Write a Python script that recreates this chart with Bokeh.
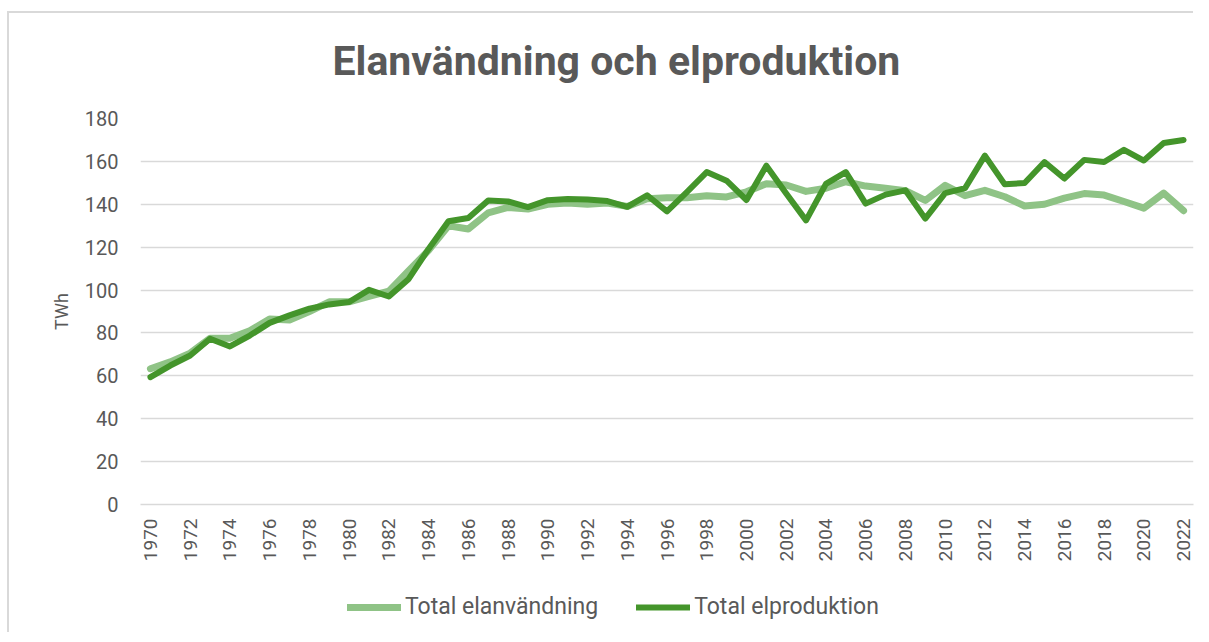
import math
from bokeh.plotting import figure
from bokeh.layouts import column
from bokeh.models import FixedTicker, Legend, LegendItem, Range1d, Title
from bokeh.embed import file_html
from bokeh.resources import INLINE

years = list(range(1970, 2023))
elanvandning = [63.3, 66.5, 70.6, 77.5, 77.5, 81.0, 86.5, 86.0, 90.0, 94.5,
                94.5, 97.0, 99.5, 109.0, 118.5, 130.0, 128.5, 136.0, 138.5, 137.8,
                140.0, 140.6, 140.0, 140.6, 139.0, 142.6, 143.0, 143.0, 144.0, 143.4,
                145.8, 149.6, 149.0, 146.0, 147.5, 150.5, 148.5, 147.5, 146.3, 141.8,
                148.8, 144.0, 146.5, 143.5, 139.2, 140.0, 142.9, 145.0, 144.3, 141.3,
                138.2, 145.2, 137.0]
elproduktion = [59.4, 64.8, 69.5, 77.3, 73.7, 78.8, 84.7, 88.2, 91.3, 93.3,
                94.4, 100.1, 97.0, 105.2, 119.2, 132.1, 133.6, 141.8, 141.3, 138.7,
                141.9, 142.5, 142.2, 141.5, 138.8, 144.2, 136.7, 145.7, 155.0, 151.0,
                142.0, 158.0, 145.0, 132.5, 149.5, 155.0, 140.3, 144.5, 146.5, 133.3,
                145.2, 147.5, 162.7, 149.3, 149.9, 159.7, 152.0, 160.7, 159.7, 165.4,
                160.4, 168.6, 170.0]
x_ticks = list(range(1970, 2023, 2))
y_ticks = list(range(0, 181, 20))

title_text = "Elanvändning och elproduktion"
label_cons = "Total elanvändning"
label_prod = "Total elproduktion"

TXT = "#595959"
LIGHT = "#8fc386"
DARK = "#44952b"
FONT = "Roboto"
BORDER = "2px solid #d9d9d9"


def strip(height, margin_top):
    f = figure(width=1186, height=height, min_border=0,
               x_range=Range1d(0, 1), y_range=Range1d(0, 1),
               output_backend="svg", toolbar_location=None,
               background_fill_color="white", border_fill_color="white")
    f.margin = (margin_top, 0, 0, 7)
    f.outline_line_color = None
    f.axis.visible = False
    f.grid.visible = False
    return f


# title strip
t = strip(95, 11)
t.styles = {"border-left": BORDER, "border-top": BORDER}
t.add_layout(Title(text=title_text, align="left", offset=192, standoff=43,
                   text_font=FONT, text_font_style="bold", text_font_size="41px",
                   text_color=TXT), "above")

# main chart
p = figure(frame_width=1051, frame_height=386,
           min_border_left=131, min_border_right=4,
           min_border_top=12, min_border_bottom=70,
           x_range=Range1d(1969.5, 2022.5), y_range=Range1d(0, 180),
           output_backend="svg", toolbar_location=None,
           background_fill_color="white", border_fill_color="white")
p.margin = (0, 0, 0, 7)
p.styles = {"border-left": BORDER}
p.outline_line_color = None

p.line(years, elanvandning, line_color=LIGHT, line_width=7, line_join="round", line_cap="round")
p.line(years, elproduktion, line_color=DARK, line_width=6, line_join="round", line_cap="round")

p.xgrid.visible = False
p.ygrid.grid_line_color = "#d9d9d9"
p.ygrid.grid_line_width = 1.5
p.ygrid.ticker = FixedTicker(ticks=y_ticks)

p.yaxis.ticker = FixedTicker(ticks=y_ticks)
p.yaxis.axis_line_color = None
p.yaxis.major_tick_line_color = None
p.yaxis.minor_tick_line_color = None
p.yaxis.major_label_standoff = 16
p.yaxis.major_label_text_font = FONT
p.yaxis.major_label_text_font_size = "20px"
p.yaxis.major_label_text_color = TXT
p.yaxis.axis_label = "TWh"
p.yaxis.axis_label_text_font = FONT
p.yaxis.axis_label_text_font_style = "normal"
p.yaxis.axis_label_text_font_size = "18px"
p.yaxis.axis_label_text_color = TXT
p.yaxis.axis_label_standoff = 10

p.xaxis.ticker = FixedTicker(ticks=x_ticks)
p.xaxis.axis_line_color = "#d9d9d9"
p.xaxis.axis_line_width = 1.5
p.xaxis.major_tick_line_color = None
p.xaxis.minor_tick_line_color = None
p.xaxis.major_label_orientation = math.pi / 2
p.xaxis.major_label_standoff = 8
p.xaxis.major_label_text_font = FONT
p.xaxis.major_label_text_font_size = "19px"
p.xaxis.major_label_text_color = TXT

# legend strip (series lie outside this strip's 0..1 view; only the legend shows)
q = strip(58, 0)
q.styles = {"border-left": BORDER}
k1 = q.line(years, elanvandning, line_color=LIGHT, line_width=7, line_cap="round")
k2 = q.line(years, elproduktion, line_color=DARK, line_width=6, line_cap="round")
legend = Legend(items=[LegendItem(label=label_cons, renderers=[k1]),
                       LegendItem(label=label_prod, renderers=[k2])],
                orientation="horizontal", location=(207, 12),
                glyph_width=54, glyph_height=24, label_standoff=4, spacing=38,
                label_text_font=FONT, label_text_font_size="23px", label_text_color=TXT,
                border_line_color=None, background_fill_alpha=0, margin=0, padding=0)
q.add_layout(legend, "center")

layout = column(t, p, q, spacing=0)
open("out.html", "w").write(file_html(layout, INLINE))
